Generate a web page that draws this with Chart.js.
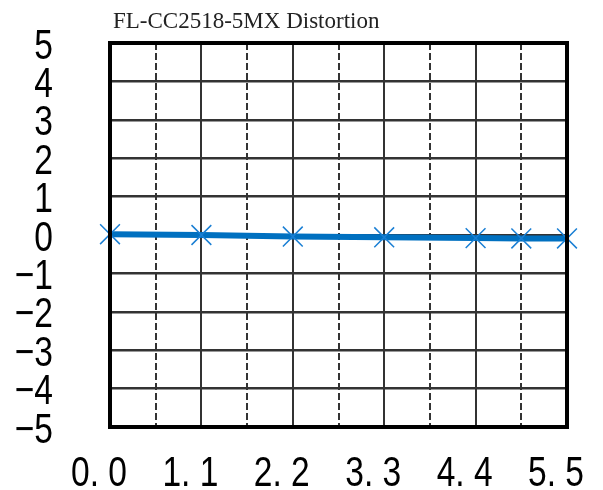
<!DOCTYPE html>
<html>
<head>
<meta charset="utf-8">
<script src="https://cdn.jsdelivr.net/npm/chart.js@4"></script>
<style>
  html, body { margin: 0; padding: 0; background: #fff; }
  #wrap { width: 603px; height: 490px; }
</style>
</head>
<body>
<div id="wrap"><canvas id="chart"></canvas></div>
<script>
const titleText = "FL-CC2518-5MX Distortion";
const xValues = [0, 1.1, 2.2, 3.3, 4.4, 4.95, 5.5];
const distortion = [0.02, 0, -0.04, -0.06, -0.08, -0.09, -0.09];
const xTickLabels = ["0. 0", "1. 1", "2. 2", "3. 3", "4. 4", "5. 5"];

const labelFont = "43px 'Liberation Sans', Arial, sans-serif";
const squeeze = 0.78; // tick digits in the original are tall and narrow
const gridColor = "#333333";

const noPad = (scale) => {
  scale.paddingTop = 0;
  scale.paddingBottom = 0;
  scale.paddingLeft = 0;
  scale.paddingRight = 0;
};

// narrow text, placed from the scales' own tick pixels
function squeezedText(ctx, text, x, y, align) {
  ctx.save();
  ctx.translate(x, y);
  ctx.scale(squeeze, 1);
  ctx.textAlign = align;
  ctx.fillText(text, 0, 0);
  ctx.restore();
}

const frame = {
  id: "frame",
  afterDraw(chart) {
    const { ctx, chartArea: a, scales } = chart;
    ctx.save();
    ctx.strokeStyle = "#000";
    ctx.lineWidth = 4;
    ctx.strokeRect(a.left, a.top, a.right - a.left, a.bottom - a.top);

    ctx.fillStyle = "#000";
    ctx.font = labelFont;
    ctx.textBaseline = "alphabetic";
    scales.y.ticks.forEach((t) => {
      const label = String(t.value).replace("-", "\u2212");
      squeezedText(ctx, label, 53, scales.y.getPixelForValue(t.value) + 15.5, "right");
    });
    scales.x.ticks.forEach((t, i) => {
      if (i % 2) return;
      squeezedText(ctx, xTickLabels[i / 2], scales.x.getPixelForValue(t.value) - 11, 486, "center");
    });

    ctx.fillStyle = "#222";
    ctx.font = "23px 'Liberation Serif', serif";
    ctx.textAlign = "left";
    ctx.fillText(titleText, a.left + 3, 28);
    ctx.restore();
  },
};

new Chart(document.getElementById("chart"), {
  type: "line",
  data: {
    datasets: [{
      data: xValues.map((x, i) => ({ x, y: distortion[i] })),
      borderColor: "#0070c0",
      borderWidth: 6,
      pointStyle: "crossRot",
      pointRadius: 14,
      pointBorderWidth: 1.5,
      pointBorderColor: "#1a7fd4",
      tension: 0,
      clip: false,
    }],
  },
  options: {
    responsive: true,
    maintainAspectRatio: false,
    animation: false,
    layout: { padding: { top: 43, right: 36, left: 0, bottom: 0 } },
    plugins: { legend: { display: false }, tooltip: { enabled: false }, title: { display: false } },
    scales: {
      x: {
        type: "linear",
        min: 0,
        max: 5.5,
        afterFit(scale) { scale.height = 63; noPad(scale); },
        ticks: { stepSize: 0.55, autoSkip: false, display: false },
        grid: { color: gridColor, lineWidth: 2, drawTicks: false },
        border: {
          display: false,
          dash: (c) => (c.tick && c.index % 2 === 1 ? [7, 3] : []),
        },
      },
      y: {
        min: -5,
        max: 5,
        afterFit(scale) { scale.width = 110; noPad(scale); },
        ticks: { stepSize: 1, autoSkip: false, display: false },
        grid: { color: gridColor, lineWidth: 2.5, drawTicks: false },
        border: { display: false },
      },
    },
  },
  plugins: [frame],
});
</script>
</body>
</html>
